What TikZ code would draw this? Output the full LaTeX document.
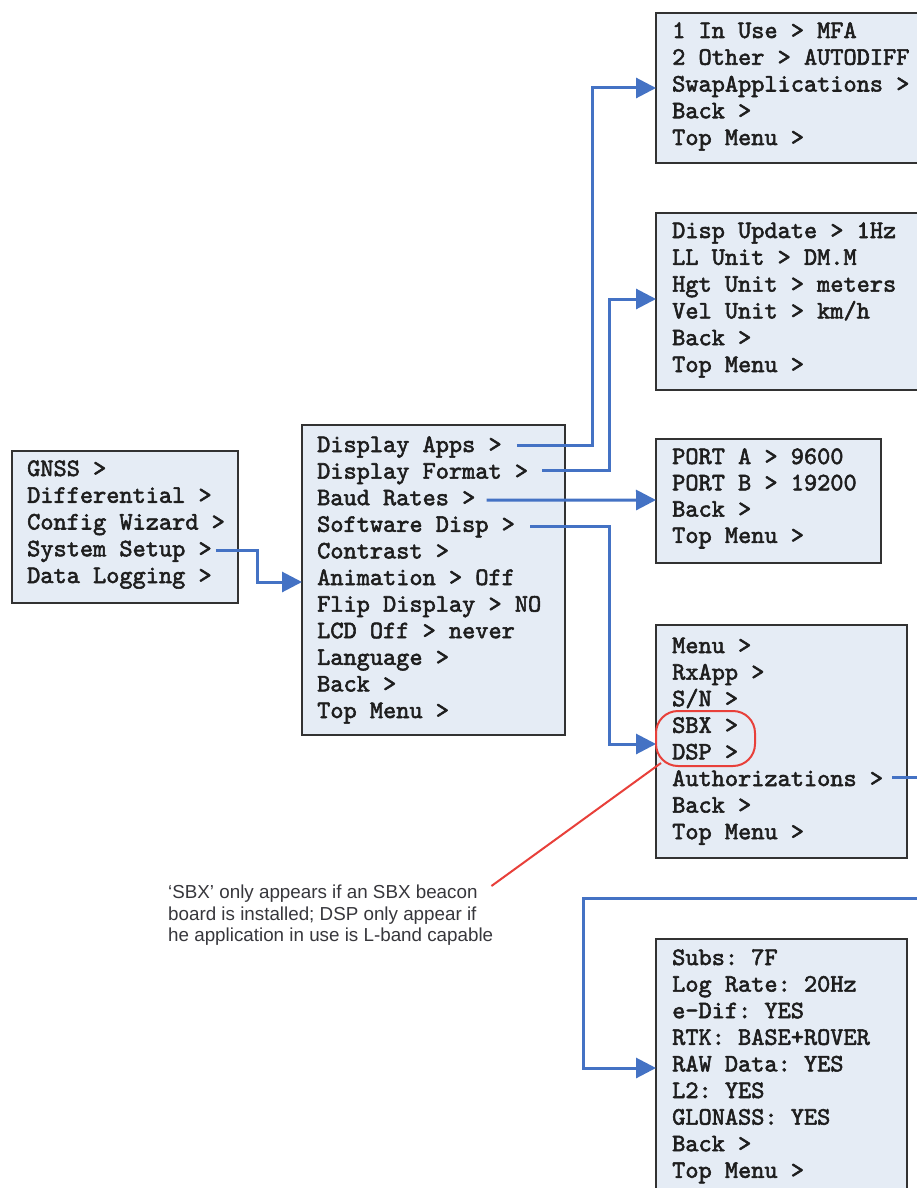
\documentclass[tikz,border=0pt]{standalone}
\usepackage{fontspec}
\setmainfont{Liberation Sans}
\newfontfamily\menufont{lmmono10-regular.otf}[FakeBold=2.2]
\usetikzlibrary{arrows.meta}
\definecolor{boxfill}{RGB}{229,236,245}
\definecolor{boxline}{RGB}{50,50,50}
\definecolor{conncol}{RGB}{68,114,196}
\definecolor{notered}{RGB}{232,64,58}
\definecolor{itemtext}{RGB}{30,30,30}
\definecolor{notetext}{RGB}{55,55,60}
\tikzset{
  menubox/.style={draw=boxline, fill=boxfill, line width=1.8pt, rectangle, anchor=north west, outer sep=0pt, inner sep=0pt},
  item/.style={anchor=base west, inner sep=0pt, text=itemtext, font=\menufont\frenchspacing\fontsize{25.1}{30}\selectfont},
  conn/.style={draw=conncol, line width=3pt, -{Triangle[length=20pt,width=20pt]}},
  hilite/.style={draw=notered, line width=2pt, rectangle, rounded corners=22pt, minimum width=99pt, minimum height=55pt},
  notebox/.style={anchor=north west, inner sep=0pt, align=left, text=notetext, font=\fontsize{18.8}{21.5}\selectfont}
}
\begin{document}
\begin{tikzpicture}[x=1pt,y=-1pt]
\useasboundingbox (0,0) rectangle (917,1188);
\clip (0,0) rectangle (917,1188);
\fill[white] (0,0) rectangle (917,1188);

% boxes
\node[menubox, minimum width=226pt, minimum height=152pt] (main) at (12,451) {};
\node[menubox, minimum width=263pt, minimum height=310pt] (setup) at (302,425) {};
\node[menubox, minimum width=279pt, minimum height=150pt] (apps) at (656,13) {};
\node[menubox, minimum width=279pt, minimum height=177pt] (fmt) at (656,213) {};
\node[menubox, minimum width=225pt, minimum height=124pt] (baud) at (656,439) {};
\node[menubox, minimum width=251pt, minimum height=233pt] (soft) at (656,625) {};
\node[menubox, minimum width=251pt, minimum height=271pt] (auth) at (656,939) {};

% menu items
\foreach \t [count=\i] in {GNSS >,Differential >,Config Wizard >,System Setup >,Data Logging >}
  \node[item] (main-\i) at (27,{476+(\i-1)*26.75}) {\t};
\foreach \t [count=\i] in {Display Apps >,Display Format >,Baud Rates >,Software Disp >,Contrast >,Animation > Off,Flip Display > NO,LCD Off > never,Language >,Back >,Top Menu >}
  \node[item] (setup-\i) at (317,{452+(\i-1)*26.6}) {\t};
\foreach \t [count=\i] in {1 In Use > MFA,2 Other > AUTODIFF,SwapApplications >,Back >,Top Menu >}
  \node[item] (apps-\i) at (672,{38+(\i-1)*26.75}) {\t};
\foreach \t [count=\i] in {Disp Update > 1Hz,LL Unit > DM.M,Hgt Unit > meters,Vel Unit > km/h,Back >,Top Menu >}
  \node[item] (fmt-\i) at (672,{238+(\i-1)*26.8}) {\t};
\foreach \t [count=\i] in {PORT A > 9600,PORT B > 19200,Back >,Top Menu >}
  \node[item] (baud-\i) at (672,{464+(\i-1)*26.3}) {\t};
\foreach \t [count=\i] in {Menu >,RxApp >,S/N >,SBX >,DSP >,Authorizations >,Back >,Top Menu >}
  \node[item] (soft-\i) at (672,{653+(\i-1)*26.6}) {\t};
\foreach \t [count=\i] in {Subs: 7F,Log Rate: 20Hz,e-Dif: YES,RTK: BASE+ROVER,RAW Data: YES,L2: YES,GLONASS: YES,Back >,Top Menu >}
  \node[item] (auth-\i) at (672,{965+(\i-1)*26.6}) {\t};

% connectors
\draw[conn] ([xshift=4pt,yshift=6pt]main-4.base east) -| (257,582) -- (setup.west |- 0,582);
\draw[conn] ([xshift=15pt,yshift=7pt]setup-1.base east) -| (592,88) -- (apps.west |- 0,88);
\draw[conn] ([xshift=14pt,yshift=8pt]setup-2.base east) -| (609,299) -- (fmt.west |- 0,299);
\draw[conn] ([xshift=11pt,yshift=5pt]setup-3.base east) -- (baud.west |- 0,500);
\draw[conn] ([xshift=15pt,yshift=5pt]setup-4.base east) -| (609,744) -- (soft.west |- 0,744);
\draw[conn] ([xshift=9pt,yshift=9pt]soft-6.base east) -| (935,898) -- (583,898) -- (583,1068) -- (auth.west |- 0,1068);

% highlight and note
\node[hilite] (hl) at (705.5,738.5) {};
\node[notebox] (note) at (168,885) {‘SBX’ only appears if an SBX beacon\\board is installed; DSP only appear if\\he application in use is L-band capable};
\draw[draw=notered, line width=2pt] ([xshift=6pt,yshift=4pt]hl.south west) -- ([xshift=-2pt,yshift=-1pt]note.north east);
\end{tikzpicture}
\end{document}
